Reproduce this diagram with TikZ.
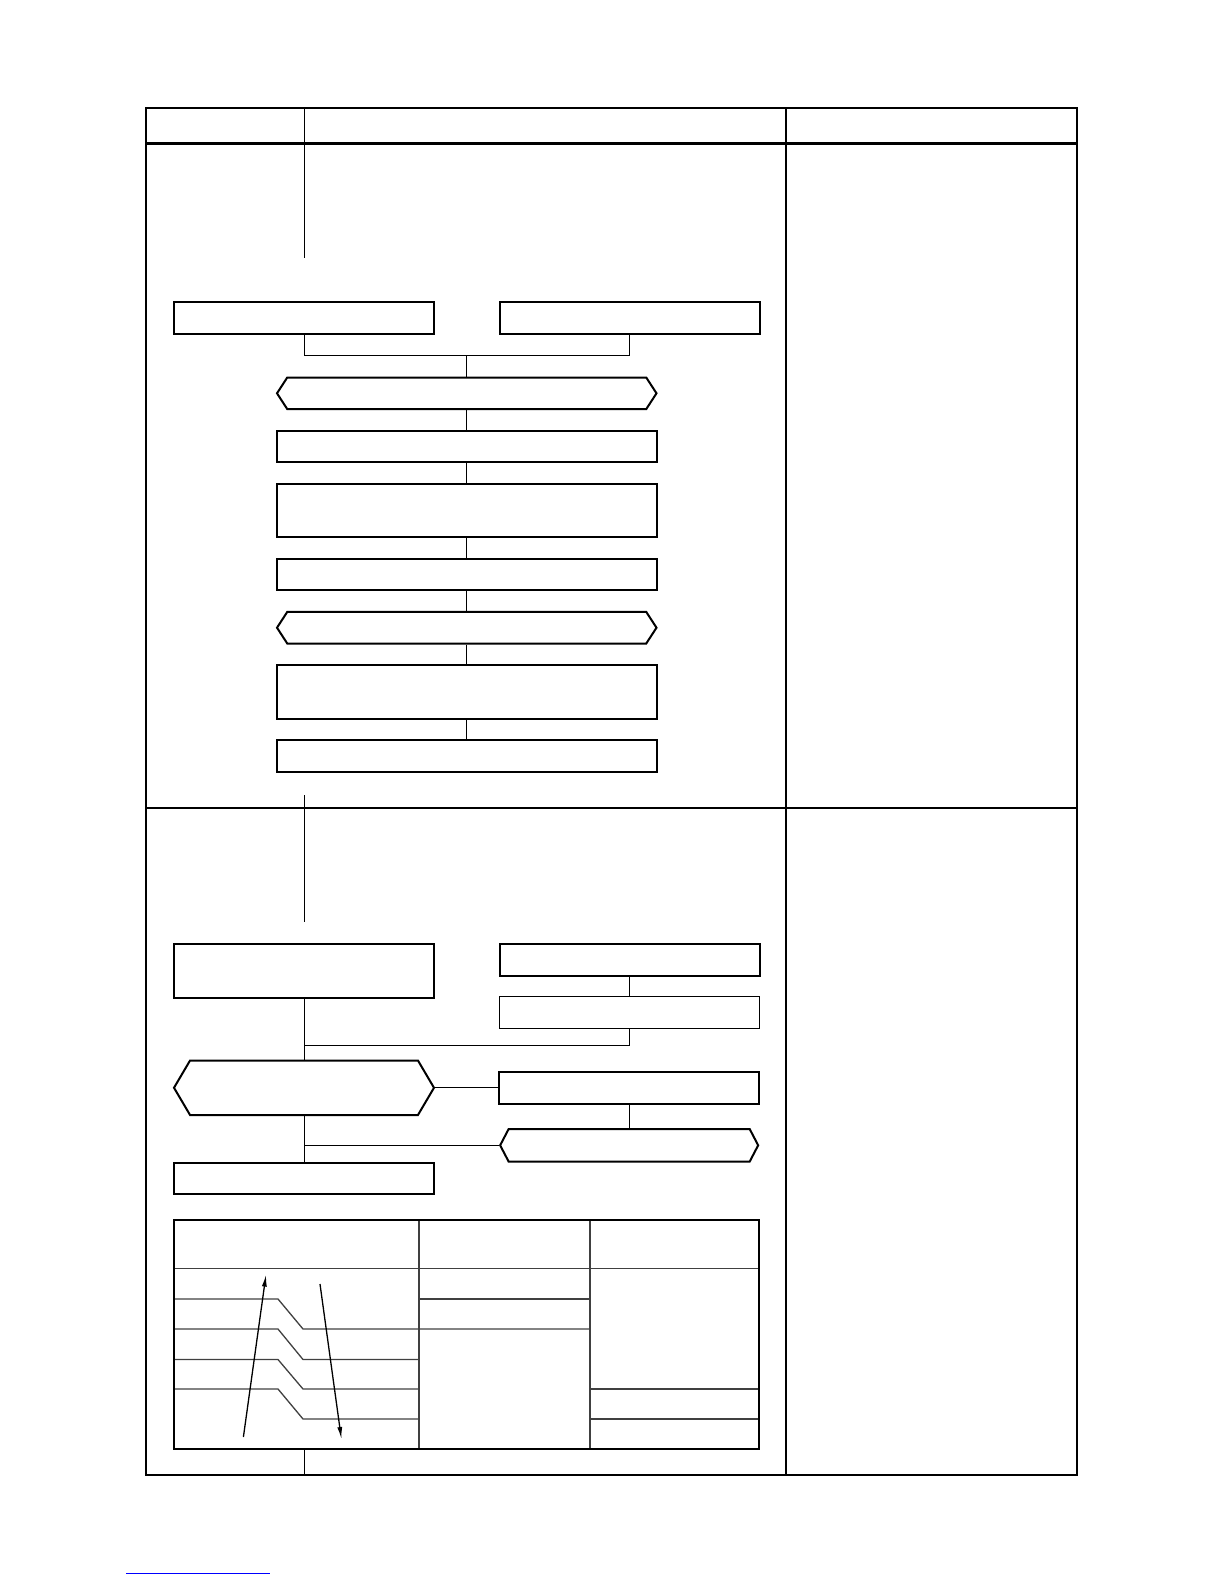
\documentclass[tikz,border=0pt]{standalone}
\usepackage{xcolor}
\usetikzlibrary{
  positioning,
  shapes.symbols,
  arrows.meta
}

\begin{document}
\begin{tikzpicture}[x=1pt, y=-1pt, node distance=19.5pt,
  box/.style={draw, rectangle, line width=2pt, minimum width=260pt, minimum height=31.6pt, inner sep=0pt},
  tallbox/.style={box, minimum height=53.6pt},
  thinbox/.style={box, line width=1pt},
  widebox/.style={box, minimum width=379.5pt},
  widetall/.style={widebox, minimum height=53.6pt},
  hexa/.style={draw, signal, signal to=east and west, line width=2pt, inner sep=0pt, minimum height=31.6pt, signal pointer angle=114},
  link/.style={line width=1pt},
  grid/.style={line width=1.3pt, draw=black!75},
  frame/.style={line width=2.6pt},
  rule/.style={line width=1.2pt},
  arrow/.style={-{Latex[length=12pt,width=5pt]}, line width=1.3pt}
]
\useasboundingbox (0,0) rectangle (1224,1584);

% Frame
\draw[frame] (146,108) rectangle (1077,1475);
\draw[frame] (146,143.4) -- (1077,143.4);
\draw[rule] (146,808) -- (1077,808);
\draw[rule] (786,108) -- (786,1475);
\draw[link] (304,108) -- (304,257.5);
\draw[link] (304,795) -- (304,922);
\draw[link] (304,1450) -- (304,1475);

% Upper nodes
\node[box] (inA) at (304,318) {};
\node[box] (inB) at (629.5,318) {};
\node[hexa, minimum width=379.5pt] (chk1) at (466.75,393.3) {};
\node[widebox, below=of chk1] (stepC) {};
\node[widetall, below=of stepC] (stepD) {};
\node[widebox, below=of stepD] (stepE) {};
\node[hexa, minimum width=379.5pt, below=of stepE] (chk2) {};
\node[widetall, below=of chk2] (stepF) {};
\node[widebox, below=of stepF] (stepG) {};
\coordinate (join1) at (466.75,355.5);

% Upper connectors
\draw[link] (inA.south) |- (join1) -| (inB.south);
\draw[link] (join1) -- (chk1.north);
\draw[link] (chk1) -- (stepC);
\draw[link] (stepC) -- (stepD);
\draw[link] (stepD) -- (stepE);
\draw[link] (stepE) -- (chk2);
\draw[link] (chk2) -- (stepF);
\draw[link] (stepF) -- (stepG);

% Lower nodes
\node[hexa, minimum width=260pt, minimum height=54.5pt, signal pointer angle=119] (chk3) at (304,1087.75) {};
\node[tallbox, above=60.5pt of chk3] (inH) {};
\node[box] (inI) at (629.5,960) {};
\node[thinbox, below=19.5pt of inI] (inJ) {};
\node[box, right=63pt of chk3] (outK) {};
\node[hexa, minimum width=258pt, minimum height=32.5pt, signal pointer angle=125, below=23.5pt of outK] (chk4) {};
\node[box, below=45.5pt of chk3] (outL) {};
\coordinate (join2) at (304,1045);

% Lower connectors
\draw[link] (inH) -- (chk3);
\draw[link] (inI) -- (inJ);
\draw[link] (inJ.south) |- (join2);
\draw[link] (chk3.east) -- (outK.west);
\draw[link] (outK) -- (chk4);
\draw[link] (chk3.south) -- (outL.north);
\draw[link] (chk4.west) -- (chk3.south |- chk4.west);

% Table
\draw[grid] (174,1268.6) -- (758.5,1268.6);
\draw[grid] (419,1220) -- (419,1449.4);
\draw[grid] (590,1220) -- (590,1449.4);
\draw[grid] (174,1299) -- (278,1299) -- (303,1329) -- (590,1329);
\draw[grid] (174,1329) -- (278,1329) -- (303,1359.5) -- (419,1359.5);
\draw[grid] (174,1359.5) -- (278,1359.5) -- (303,1389) -- (419,1389);
\draw[grid] (174,1389) -- (278,1389) -- (303,1419) -- (419,1419);
\draw[grid] (419,1299) -- (590,1299);
\draw[grid] (590,1389) -- (758.5,1389);
\draw[grid] (590,1419) -- (758.5,1419);
\draw[line width=2pt] (174,1220) rectangle (758.5,1449.4);

% Arrows
\coordinate (upS) at (243.4,1437);
\coordinate (upE) at (266,1274.6);
\coordinate (dnS) at (320,1284);
\coordinate (dnE) at (341.4,1439);
\draw[arrow] (upS) -- (upE);
\draw[arrow] (dnS) -- (dnE);

% Footer
\draw[blue, line width=1pt] (126,1573.6) -- (270,1573.6);

\end{tikzpicture}
\end{document}
